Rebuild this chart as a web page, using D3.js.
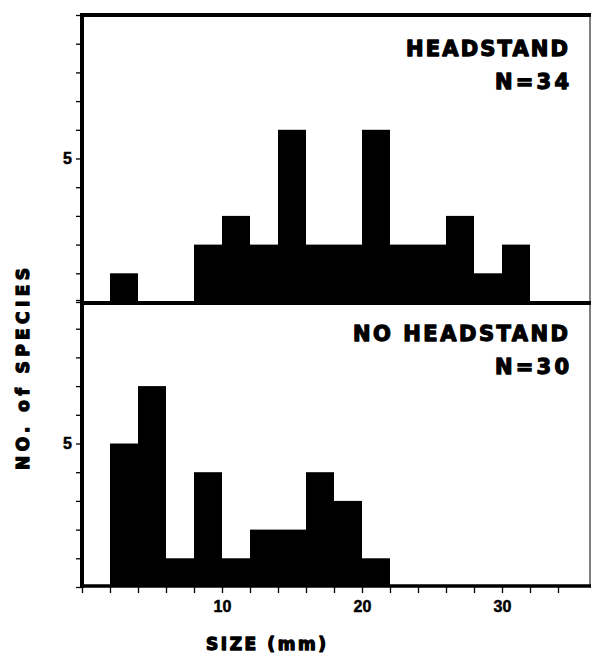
<!DOCTYPE html>
<html>
<head>
<meta charset="utf-8">
<script src="https://cdn.jsdelivr.net/npm/d3@7"></script>
<style>
  body { margin: 0; background: #fff; }
  svg { display: block; }
</style>
</head>
<body>
<svg id="chart"></svg>
<script>
// bin starts (mm), each bin is 2 mm wide
var binStarts = [2, 4, 6, 8, 10, 12, 14, 16, 18, 20, 22, 24, 26, 28, 30];
var headstand = [1, 0, 0, 2, 3, 2, 6, 2, 2, 6, 2, 2, 3, 1, 2];
var noHeadstand = [5, 7, 1, 4, 1, 2, 2, 4, 3, 1, 0, 0, 0, 0, 0];
var xTickValues = [0, 2, 4, 6, 8, 10, 12, 14, 16, 18, 20, 22, 24, 26, 28, 30, 32, 34];
var xTickLabels = [10, 20, 30];
var yTickLabels = [5];
var binWidth = 2;

var width = 591, height = 654;
var svg = d3.select("#chart").attr("width", width).attr("height", height);

var x = d3.scaleLinear().domain([0, 36.4]).range([82, 591.6]);
var yTop = d3.scaleLinear().domain([0, 10]).range([302, 15]);
var yBot = d3.scaleLinear().domain([0, 10]).range([587, 300]);

var heavy = "'DejaVu Sans', sans-serif";

// very heavy lettering like the stencil type of the original
function heavyText(sel, size, len) {
  sel.attr("font-family", heavy)
    .attr("font-weight", "900")
    .attr("font-size", size + "px")
    .attr("stroke", "black")
    .attr("stroke-width", 1.3)
    .attr("stroke-linejoin", "round")
    .attr("textLength", len)
    .attr("lengthAdjust", "spacing");
}

function drawPanel(values, y, title, n) {
  var g = svg.append("g");
  var data = binStarts.map(function(d, i) { return { x0: d, count: values[i] }; });

  g.selectAll("rect")
    .data(data.filter(function(d) { return d.count > 0; }))
    .enter()
    .append("rect")
    .attr("x", function(d) { return x(d.x0); })
    .attr("y", function(d) { return y(d.count); })
    .attr("width", function(d) { return x(d.x0 + binWidth) - x(d.x0); })
    .attr("height", function(d) { return y(0) - y(d.count); })
    .attr("fill", "black");

  // y ticks
  var axis = d3.axisLeft(y)
    .tickValues(d3.range(0, 11))
    .tickSize(6)
    .tickPadding(4)
    .tickFormat(function(d) { return yTickLabels.indexOf(d) >= 0 ? d : ""; });
  var ag = g.append("g").attr("transform", "translate(" + x(0) + ",0)").call(axis);
  ag.select(".domain").remove();
  ag.selectAll(".tick line").attr("stroke", "black").attr("stroke-width", 1.3);
  ag.selectAll(".tick text")
    .attr("font-family", "'Liberation Sans', sans-serif")
    .attr("font-weight", "bold")
    .attr("font-size", "16px")
    .attr("stroke", "black")
    .attr("stroke-width", 0.5)
    .attr("fill", "black");

  g.append("text")
    .text(title)
    .attr("x", 568)
    .attr("y", y(10) + 41)
    .attr("text-anchor", "end")
    .call(heavyText, 21, title.length > 10 ? 215 : 162);

  g.append("text")
    .text("N=" + n)
    .attr("x", 569)
    .attr("y", y(10) + 74)
    .attr("text-anchor", "end")
    .call(heavyText, 21, 74);
}

drawPanel(headstand, yTop, "HEADSTAND", 34);
drawPanel(noHeadstand, yBot, "NO  HEADSTAND", 30);

// frame lines
svg.append("line")
  .attr("x1", x(0) - 2).attr("x2", width)
  .attr("y1", yTop(10)).attr("y2", yTop(10))
  .attr("stroke", "black").attr("stroke-width", 4);
svg.append("line")
  .attr("x1", x(0)).attr("x2", width)
  .attr("y1", yTop(0) + 1).attr("y2", yTop(0) + 1)
  .attr("stroke", "black").attr("stroke-width", 4);
svg.append("line")
  .attr("x1", x(0)).attr("x2", width)
  .attr("y1", yBot(0) - 1).attr("y2", yBot(0) - 1)
  .attr("stroke", "black").attr("stroke-width", 3.5);
svg.append("line")
  .attr("x1", x(0)).attr("x2", x(0))
  .attr("y1", yTop(10) - 2).attr("y2", yBot(0) + 1)
  .attr("stroke", "black").attr("stroke-width", 4);
svg.append("line")
  .attr("x1", width - 1).attr("x2", width - 1)
  .attr("y1", yTop(10)).attr("y2", yBot(0))
  .attr("stroke", "black").attr("stroke-width", 1);

// x axis
var xAxis = d3.axisBottom(x)
  .tickValues(xTickValues)
  .tickSize(6)
  .tickPadding(8)
  .tickFormat(function(d) { return xTickLabels.indexOf(d) >= 0 ? d : ""; });
var xg = svg.append("g").attr("transform", "translate(0," + yBot(0) + ")").call(xAxis);
xg.select(".domain").remove();
xg.selectAll(".tick line").attr("stroke", "black").attr("stroke-width", 1.3);
xg.selectAll(".tick text")
  .attr("font-family", "'Liberation Sans', sans-serif")
  .attr("font-weight", "bold")
  .attr("font-size", "16px")
  .attr("stroke", "black")
  .attr("stroke-width", 0.5)
  .attr("fill", "black");

// axis titles
svg.append("text")
  .text("SIZE (mm)")
  .attr("x", 266)
  .attr("y", 650)
  .attr("text-anchor", "middle")
  .call(heavyText, 17, 120);

svg.append("text")
  .text("NO.  of  SPECIES")
  .attr("transform", "translate(29,369) rotate(-90)")
  .attr("text-anchor", "middle")
  .call(heavyText, 17, 202);
</script>
</body>
</html>
